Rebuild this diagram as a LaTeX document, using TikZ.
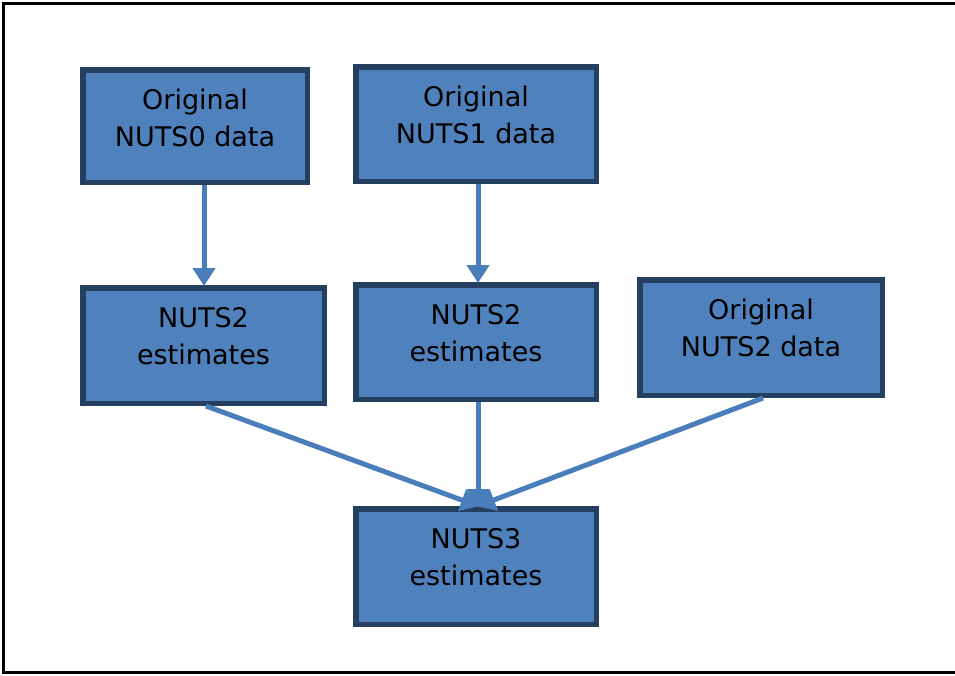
\documentclass[tikz,border=0pt]{standalone}
\usepackage{fontspec}
\setmainfont{DejaVu Sans}
\usetikzlibrary{arrows.meta}
\definecolor{boxfill}{HTML}{4F81BD}
\definecolor{boxline}{HTML}{243F60}
\definecolor{arrowcol}{HTML}{4A7EBB}
\tikzset{
  stepbox/.style={draw=boxline, fill=boxfill, line width=5.5pt, inner sep=0pt, rectangle},
  boxtext/.style={align=center, inner sep=0pt, font=\fontsize{27}{37}\selectfont, text=black},
  conn/.style={draw=arrowcol, line width=5pt, -{Triangle[width=22pt,length=18pt]}, shorten >=-1pt},
}
\begin{document}
\begin{tikzpicture}[x=1pt,y=-1pt]
\useasboundingbox (0,0) rectangle (955,675);
\fill[white] (0,0) rectangle (955,675);
\draw[line width=2.2pt, black] (3.5,3.5) rectangle (970,672.5);

\node[stepbox, minimum width=224.5pt, minimum height=112.5pt] (a) at (195,126) {};
\node[stepbox, minimum width=240.5pt, minimum height=114.5pt] (b) at (476,124) {};
\node[stepbox, minimum width=241.5pt, minimum height=115.5pt] (c) at (203.5,345.5) {};
\node[stepbox, minimum width=240.5pt, minimum height=114.5pt] (d) at (476,342) {};
\node[stepbox, minimum width=242.5pt, minimum height=115.5pt] (e) at (761,337.5) {};
\node[stepbox, minimum width=240.5pt, minimum height=115.5pt] (f) at (476,566.5) {};

\node[boxtext] (at) at ([yshift=8pt]a.center) {Original\\NUTS0 data};
\node[boxtext] (bt) at ([yshift=9pt]b.center) {Original\\NUTS1 data};
\node[boxtext] (ct) at ([yshift=9pt]c.center) {NUTS2\\estimates};
\node[boxtext] (dt) at ([yshift=9pt]d.center) {NUTS2\\estimates};
\node[boxtext] (et) at ([yshift=9.5pt]e.center) {Original\\NUTS2 data};
\node[boxtext] (ft) at ([yshift=9pt]f.center) {NUTS3\\estimates};

\coordinate (as) at ([xshift=9pt]a.south);
\coordinate (bs) at ([xshift=2pt]b.south);
\coordinate (cs) at ([xshift=2.5pt]c.south);
\coordinate (es) at ([xshift=2pt]e.south);
\coordinate (fn) at ([xshift=2pt]f.north);

\draw[conn] (as) -- (as |- c.north);
\draw[conn] (bs) -- (bs |- d.north);
\draw[conn] (cs) -- (fn);
\draw[conn] (d.south -| fn) -- (fn);
\draw[conn] (es) -- (fn);
\end{tikzpicture}
\end{document}
